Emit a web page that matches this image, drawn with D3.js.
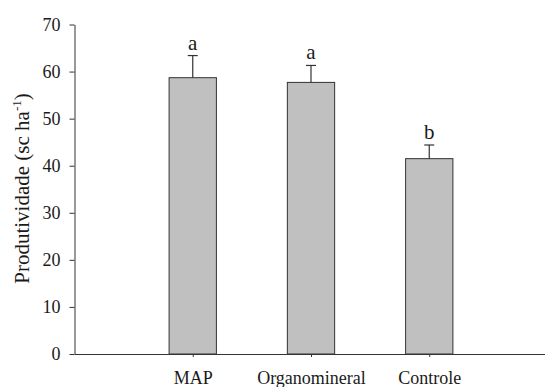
<!DOCTYPE html>
<html><head><meta charset="utf-8">
<script src="https://cdn.jsdelivr.net/npm/d3@7"></script>
<style>html,body{margin:0;padding:0;background:#fff;}svg{display:block;}
svg text{font-family:"Liberation Serif","Times New Roman",serif !important;}</style>
</head><body>
<svg id="c" width="545" height="387"></svg>
<script>
const categories = ["MAP", "Organomineral", "Controle"];
const values = [58.7, 57.7, 41.5];
const errors = [4.7, 3.6, 2.9];
const letters = ["a", "a", "b"];
const yTicks = [0, 10, 20, 30, 40, 50, 60, 70];

const svg = d3.select("#c");
const ink = "#1a1a1a";

const x = d3.scaleLinear().domain([0, 4]).range([74.5, 547.5]);
const y = d3.scaleLinear().domain([0, 70]).range([354, 24.5]);
const barW = x(0.4) - x(0);

// bars
svg.selectAll("rect.bar").data(values).join("rect")
  .attr("class", "bar")
  .attr("x", (d, i) => x(i + 1) - barW / 2)
  .attr("y", d => y(d))
  .attr("width", barW)
  .attr("height", d => y(0) - y(d))
  .attr("fill", "#c0c0c0")
  .attr("stroke", "#333")
  .attr("stroke-width", 1);

// error bars (upper only)
const eg = svg.append("g").attr("stroke", "#333").attr("stroke-width", 1.2);
values.forEach((v, i) => {
  const cx = x(i + 1);
  eg.append("line").attr("x1", cx).attr("x2", cx).attr("y1", y(v)).attr("y2", y(v + errors[i]));
  eg.append("line").attr("x1", cx - 5).attr("x2", cx + 5).attr("y1", y(v + errors[i])).attr("y2", y(v + errors[i]));
});

// letters
svg.selectAll("text.let").data(letters).join("text")
  .attr("class", "let")
  .attr("x", (d, i) => x(i + 1))
  .attr("y", (d, i) => y(values[i] + errors[i]) - 6)
  .attr("text-anchor", "middle")
  .style("font-size", "21px").attr("fill", ink)
  .text(d => d);

// y axis
const ya = svg.append("g").attr("transform", `translate(${x(0)},0)`)
  .call(d3.axisLeft(y).tickValues(yTicks).tickSize(5).tickPadding(9).tickSizeOuter(0));
ya.select(".domain").attr("stroke", "#333");
ya.selectAll(".tick line").attr("stroke", "#333");
ya.selectAll("text").style("font-size", "18px").attr("fill", ink);

// x axis
const xa = svg.append("g").attr("transform", `translate(0,${y(0)})`)
  .call(d3.axisBottom(x).tickValues([1, 2, 3]).tickFormat((d) => categories[d - 1]).tickSize(3).tickPadding(14).tickSizeOuter(0));
xa.select(".domain").attr("stroke", "#333");
xa.selectAll(".tick line").attr("stroke", "#333");
xa.selectAll("text").style("font-size", "18px").attr("fill", ink);

// y title
const t = svg.append("text")
  .attr("transform", `translate(29,188.5) rotate(-90)`)
  .attr("text-anchor", "middle")
  .style("font-size", "21px").attr("fill", ink);
t.append("tspan").text("Produtividade (sc ha");
t.append("tspan").style("font-size", "13px").attr("dy", -8).text("-1");
t.append("tspan").attr("dy", 8).text(")");
</script>
</body></html>
